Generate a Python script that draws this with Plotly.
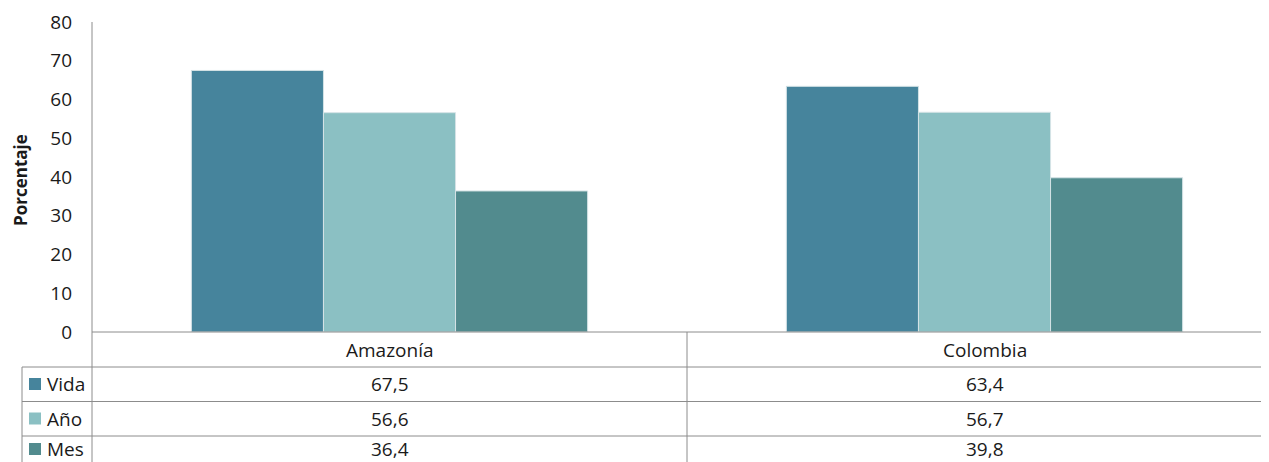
import plotly.graph_objects as go

categories = ["Amazonía", "Colombia"]
series_names = ["Vida", "Año", "Mes"]
vida = [67.5, 63.4]
anio = [56.6, 56.7]
mes = [36.4, 39.8]
series_values = [vida, anio, mes]
colors = ["#46849C", "#8BC0C3", "#528B8E"]
y_ticks = [0, 10, 20, 30, 40, 50, 60, 70, 80]

OFF = 8  # page body margin offset
W, H = 1269 - OFF, 462 - OFF
L, R, T, B = 92 - OFF, 0, 22 - OFF, 130
FONT = "'Open Sans', sans-serif"
LINE = "#8C8C8C"
TXT = "#1a1a1a"
FS = 19

fig = go.Figure()
for name, vals, col in zip(series_names, series_values, colors):
    fig.add_trace(go.Bar(x=categories, y=vals, name=name,
                         marker=dict(color=col, line=dict(color="#D5E3E6", width=1))))

plot_h = H - T - B
def py(pix):  # reference pixel y -> paper
    return (H - B - (pix - OFF)) / plot_h
def px(pix):  # reference pixel x -> paper
    return ((pix - OFF) - L) / (W - L - R)

shapes = []
for ypix in [367, 401.5, 436]:
    shapes.append(dict(type="line", xref="paper", yref="paper", x0=px(22), x1=px(1275),
                       y0=py(ypix), y1=py(ypix), line=dict(color=LINE, width=1)))
shapes.append(dict(type="line", xref="paper", yref="paper", x0=0, x1=1,
                   y0=0, y1=0, line=dict(color=LINE, width=1)))
shapes.append(dict(type="line", xref="paper", yref="paper", x0=0, x1=0,
                   y0=py(470), y1=1, line=dict(color=LINE, width=1)))
shapes.append(dict(type="line", xref="x", yref="paper", x0=0.5, x1=0.5,
                   y0=py(470), y1=0, line=dict(color=LINE, width=1)))
shapes.append(dict(type="line", xref="paper", yref="paper", x0=px(22), x1=px(22),
                   y0=py(470), y1=py(367), line=dict(color=LINE, width=1)))

annotations = []
row_centers = [384, 418.5, 449]
for i, cat in enumerate(categories):
    annotations.append(dict(x=i, y=py(350), xref="x", yref="paper", text=cat,
                            showarrow=False, font=dict(family=FONT, size=FS, color=TXT),
                            xanchor="center", yanchor="middle"))
for r, (name, vals, col) in enumerate(zip(series_names, series_values, colors)):
    yc = row_centers[r]
    shapes.append(dict(type="rect", xref="paper", yref="paper",
                       x0=px(29), x1=px(41), y0=py(yc + 6), y1=py(yc - 6),
                       fillcolor=col, line=dict(width=0)))
    annotations.append(dict(x=px(45), y=py(yc), xref="paper", yref="paper", text=name,
                            showarrow=False, font=dict(family=FONT, size=FS, color=TXT),
                            xanchor="left", yanchor="middle"))
    for i, v in enumerate(vals):
        annotations.append(dict(x=i, y=py(yc), xref="x", yref="paper",
                                text=f"{v:.1f}".replace(".", ","), showarrow=False,
                                font=dict(family=FONT, size=FS, color=TXT),
                                xanchor="center", yanchor="middle"))

annotations.append(dict(x=px(20), y=py(180), xref="paper", yref="paper", text="<b>Porcentaje</b>",
                        textangle=-90, showarrow=False,
                        font=dict(family=FONT, size=17, color=TXT),
                        xanchor="center", yanchor="middle"))

x_right = -0.5 + (W - L) / 595.0
fig.update_layout(
    width=W, height=H,
    margin=dict(l=L, r=R, t=T, b=B, pad=0),
    paper_bgcolor="white", plot_bgcolor="white",
    barmode="group", bargap=0.334, bargroupgap=0,
    showlegend=False,
    font=dict(family=FONT, size=FS, color=TXT),
    xaxis=dict(range=[-0.5, x_right], showticklabels=False, showgrid=False,
               zeroline=False, showline=False, ticks=""),
    yaxis=dict(range=[0, 80], tickvals=y_ticks, showgrid=False, zeroline=False,
               showline=False, ticks="", ticklabelstandoff=19,
               tickfont=dict(family=FONT, size=FS, color=TXT)),
    shapes=shapes, annotations=annotations,
)

fig.write_html("out.html")
